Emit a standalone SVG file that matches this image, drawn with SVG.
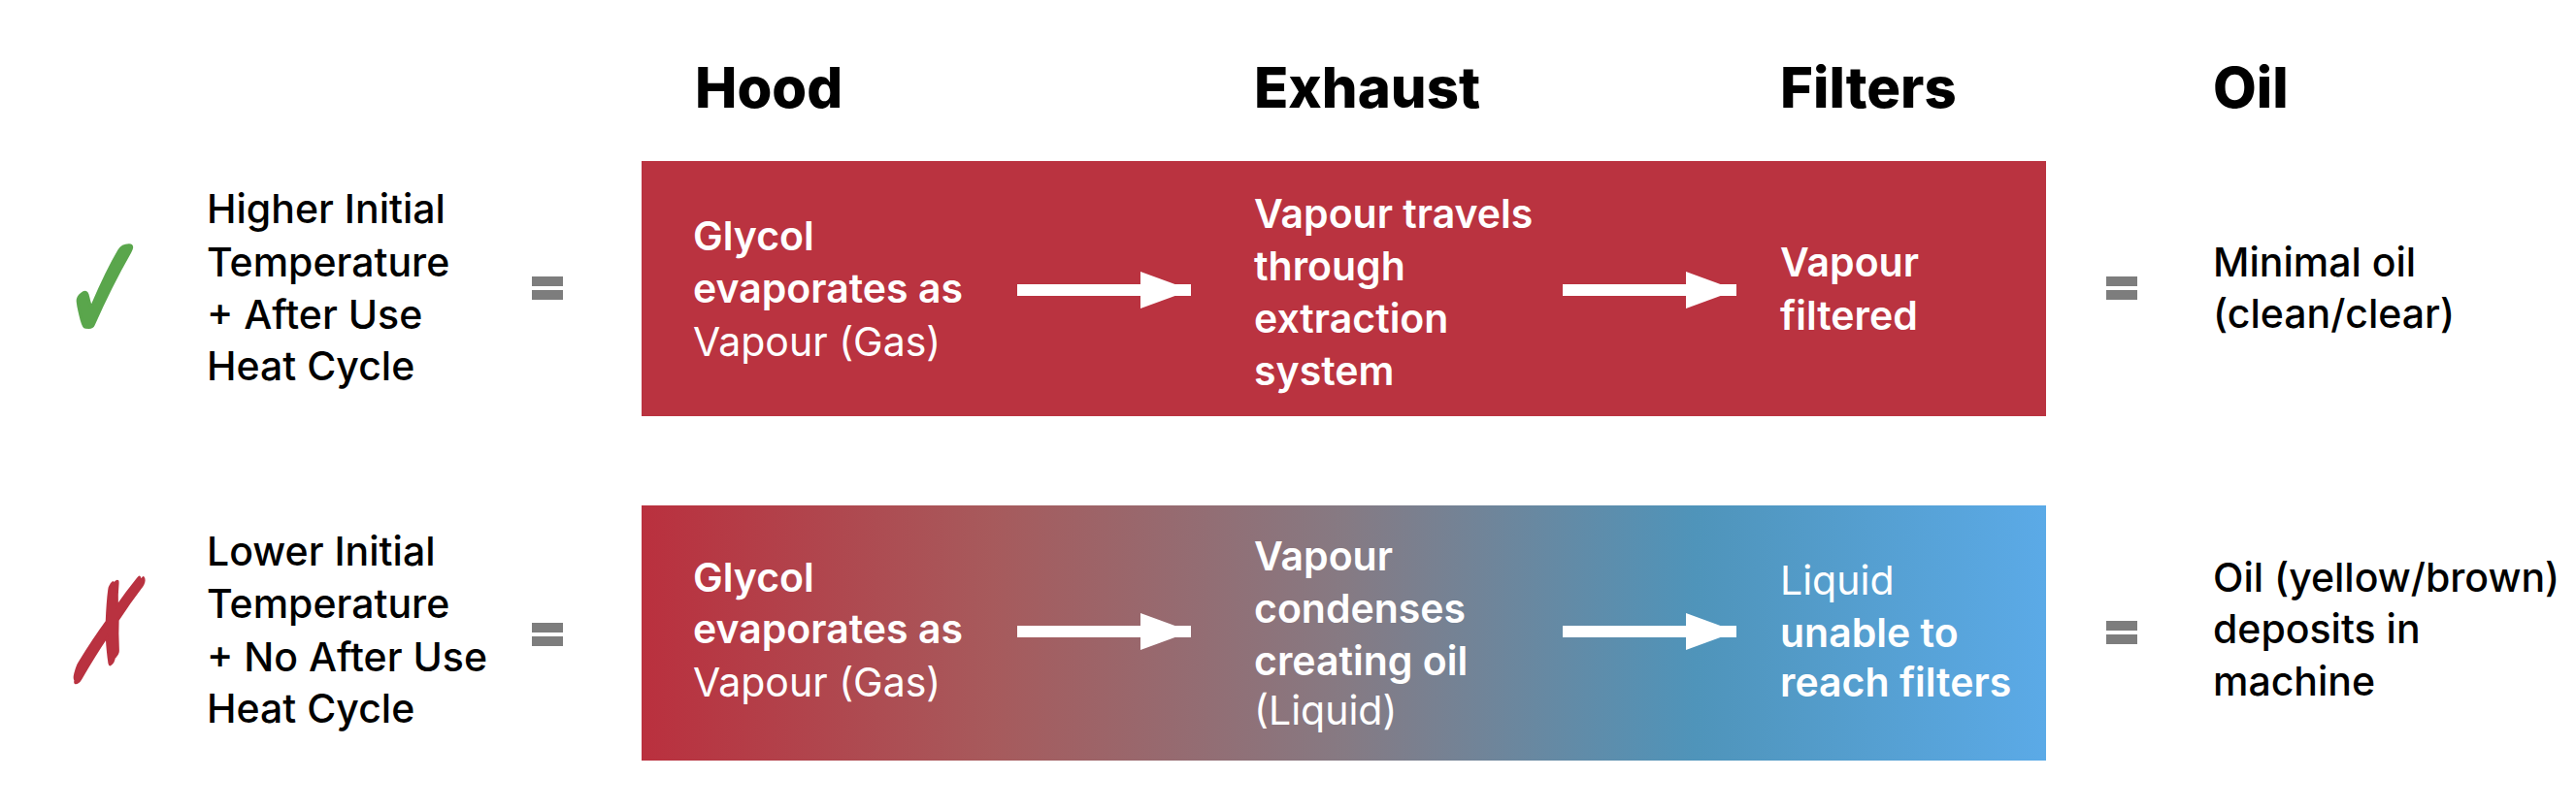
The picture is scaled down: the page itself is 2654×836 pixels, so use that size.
<svg xmlns="http://www.w3.org/2000/svg" width="2654" height="836" viewBox="0 0 2654 836">
<defs>
<linearGradient id="grad" x1="0" y1="0" x2="1" y2="0">
<stop offset="0" stop-color="#BA303E"/>
<stop offset="0.25" stop-color="#A75A5C"/>
<stop offset="0.5" stop-color="#867A83"/>
<stop offset="0.75" stop-color="#4F94BA"/>
<stop offset="1" stop-color="#5BAAE7"/>
</linearGradient>
<marker id="ah" viewBox="0 0 52 38" refX="52" refY="19" markerWidth="52" markerHeight="38" markerUnits="userSpaceOnUse" orient="auto">
<path d="M0,0 L52,19 L0,38 Z" fill="#FFFFFF"/>
</marker>
</defs>
<style>
text{font-family:Inter,"Liberation Sans",sans-serif}
.head{font-size:58px;font-weight:800;fill:#000}
.lbl{font-size:41px;font-weight:500;fill:#000}
.box{font-size:41px;font-weight:600;fill:#fff}
.reg{font-weight:400}
.mark{font-family:"DejaVu Sans",sans-serif;font-size:112px;stroke-width:3}
.arrow{stroke:#fff;stroke-width:12;fill:none}
</style>
<rect width="2654" height="836" fill="#fff"/>

<g id="headers">
<text class="head" x="716" y="111">Hood</text>
<text class="head" x="1292" y="111">Exhaust</text>
<text class="head" x="1834" y="111">Filters</text>
<text class="head" x="2280" y="111">Oil</text>
</g>

<g id="row1-mark" transform="translate(64,352) scale(0.96,1.4)"><text class="mark" x="0" y="0" fill="#5AA64C" stroke="#5AA64C">✓</text></g>
<g id="row1-condition">
<text class="lbl"><tspan x="213" y="230">Higher Initial</tspan><tspan x="213" y="285">Temperature</tspan><tspan x="213" y="339">+ After Use</tspan><tspan x="213" y="392">Heat Cycle</tspan></text>
</g>
<g id="row1-eq1"><rect x="548" y="285" width="32" height="10" fill="#7d7d7d"/><rect x="548" y="299" width="32" height="10" fill="#7d7d7d"/></g>
<g id="row1-box"><rect x="661" y="166" width="1447" height="263" fill="#BA3340"/></g>
<g id="row1-hood">
<text class="box"><tspan x="714" y="258">Glycol</tspan><tspan x="714" y="312">evaporates as</tspan><tspan x="714" y="367" class="reg">Vapour (Gas)</tspan></text>
</g>
<g id="row1-exhaust">
<text class="box"><tspan x="1292" y="235">Vapour travels</tspan><tspan x="1292" y="289">through</tspan><tspan x="1292" y="343">extraction</tspan><tspan x="1292" y="397">system</tspan></text>
</g>
<g id="row1-filters">
<text class="box"><tspan x="1834" y="285">Vapour</tspan><tspan x="1834" y="340">filtered</tspan></text>
</g>
<g id="row1-eq2"><rect x="2170" y="285" width="32" height="10" fill="#7d7d7d"/><rect x="2170" y="299" width="32" height="10" fill="#7d7d7d"/></g>
<g id="row1-oil">
<text class="lbl"><tspan x="2280" y="285">Minimal oil</tspan><tspan x="2280" y="338">(clean/clear)</tspan></text>
</g>

<g id="row2-mark" transform="translate(66,702) skewX(-15) scale(0.7,1.3)"><text class="mark" x="0" y="0" fill="#B93240" stroke="#B93240">✗</text></g>
<g id="row2-condition">
<text class="lbl"><tspan x="213" y="583">Lower Initial</tspan><tspan x="213" y="637">Temperature</tspan><tspan x="213" y="692">+ No After Use</tspan><tspan x="213" y="745">Heat Cycle</tspan></text>
</g>
<g id="row2-eq1"><rect x="548" y="642" width="32" height="10" fill="#7d7d7d"/><rect x="548" y="656" width="32" height="10" fill="#7d7d7d"/></g>
<g id="row2-box"><rect x="661" y="521" width="1447" height="263" fill="url(#grad)"/></g>
<g id="row2-hood">
<text class="box"><tspan x="714" y="610">Glycol</tspan><tspan x="714" y="663">evaporates as</tspan><tspan x="714" y="718" class="reg">Vapour (Gas)</tspan></text>
</g>
<g id="row2-exhaust">
<text class="box"><tspan x="1292" y="588">Vapour</tspan><tspan x="1292" y="642">condenses</tspan><tspan x="1292" y="696">creating oil</tspan><tspan x="1292" y="747" class="reg">(Liquid)</tspan></text>
</g>
<g id="row2-filters">
<text class="box"><tspan x="1834" y="613" class="reg">Liquid</tspan><tspan x="1834" y="667">unable to</tspan><tspan x="1834" y="718">reach filters</tspan></text>
</g>
<g id="row2-eq2"><rect x="2170" y="640" width="32" height="10" fill="#7d7d7d"/><rect x="2170" y="654" width="32" height="10" fill="#7d7d7d"/></g>
<g id="row2-oil">
<text class="lbl"><tspan x="2280" y="610">Oil (yellow/brown)</tspan><tspan x="2280" y="663">deposits in</tspan><tspan x="2280" y="717">machine</tspan></text>
</g>

<g id="connectors">
<path class="arrow" d="M1048,299 H1227" marker-end="url(#ah)"/>
<path class="arrow" d="M1610,299 H1789" marker-end="url(#ah)"/>
<path class="arrow" d="M1048,651 H1227" marker-end="url(#ah)"/>
<path class="arrow" d="M1610,651 H1789" marker-end="url(#ah)"/>
</g>
</svg>
